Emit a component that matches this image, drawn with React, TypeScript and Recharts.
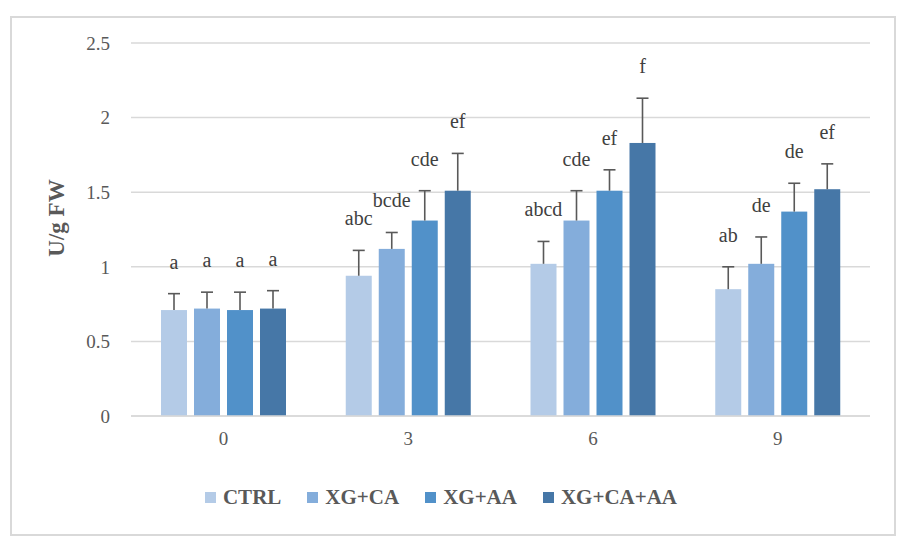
import { BarChart, Bar, XAxis, YAxis, CartesianGrid, Legend } from "recharts"

const days = ["0", "3", "6", "9"]

const ctrl = [0.71, 0.94, 1.02, 0.85]
const xgCa = [0.72, 1.12, 1.31, 1.02]
const xgAa = [0.71, 1.31, 1.51, 1.37]
const xgCaAa = [0.72, 1.51, 1.83, 1.52]

const ctrlErr = [0.11, 0.17, 0.15, 0.15]
const xgCaErr = [0.11, 0.11, 0.2, 0.18]
const xgAaErr = [0.12, 0.2, 0.14, 0.19]
const xgCaAaErr = [0.12, 0.25, 0.3, 0.17]

const ctrlLetters = ["a", "abc", "abcd", "ab"]
const xgCaLetters = ["a", "bcde", "cde", "de"]
const xgAaLetters = ["a", "cde", "ef", "de"]
const xgCaAaLetters = ["a", "ef", "f", "ef"]

const yTicks = [0, 0.5, 1, 1.5, 2, 2.5]

const SERIES = [
  { key: "CTRL", values: ctrl, errors: ctrlErr, letters: ctrlLetters, color: "#b4cbe7" },
  { key: "XG+CA", values: xgCa, errors: xgCaErr, letters: xgCaLetters, color: "#84addb" },
  { key: "XG+AA", values: xgAa, errors: xgAaErr, letters: xgAaLetters, color: "#5191c9" },
  { key: "XG+CA+AA", values: xgCaAa, errors: xgCaAaErr, letters: xgCaAaLetters, color: "#4677a7" },
]

const data = days.map((d, i) => {
  const row: Record<string, string | number> = { day: d }
  SERIES.forEach((s) => {
    row[s.key] = s.values[i]
  })
  return row
})

const FONT = "Liberation Serif, DejaVu Serif, serif"
const TEXT = "#595959"

// bar + plus-only whisker + significance letter, all from the bar's own geometry
const makeShape = (s: number) => (props: any) => {
  const { x, y, width, height, index } = props
  const serie = SERIES[s]
  const v = serie.values[index]
  const k = v ? height / v : 0
  const capY = y - serie.errors[index] * k
  const cx = x + width / 2
  return (
    <g>
      <rect x={x} y={y} width={width} height={height} fill={serie.color} />
      <line x1={cx} x2={cx} y1={y} y2={capY} stroke="#595959" strokeWidth={1.6} />
      <line x1={cx - 6} x2={cx + 6} y1={capY} y2={capY} stroke="#595959" strokeWidth={1.6} />
      <text x={cx} y={capY - 25} textAnchor="middle" style={{ fontFamily: FONT }} fontSize={20} fill="#404040">
        {serie.letters[index]}
      </text>
    </g>
  )
}

const renderLegend = () => (
  <div
    style={{
      height: 30,
      display: "flex",
      justifyContent: "center",
      alignItems: "center",
      gap: 26,
      fontFamily: FONT,
      fontWeight: "bold",
      fontSize: 21,
      color: TEXT,
    }}
  >
    {SERIES.map((s) => (
      <div key={s.key} style={{ display: "flex", alignItems: "center", gap: 7 }}>
        <span style={{ width: 11, height: 11, background: s.color, display: "inline-block" }} />
        <span>{s.key}</span>
      </div>
    ))}
  </div>
)

const yLabel = () => {
  const cx = 44
  const cy = 200
  return (
    <text
      x={cx}
      y={cy}
      transform={`rotate(-90 ${cx} ${cy})`}
      textAnchor="middle"
      dominantBaseline="central"
      style={{ fontFamily: FONT }}
      fontWeight="bold"
      fontSize={23}
      fill={TEXT}
    >
      U/g FW
    </text>
  )
}

export default function App() {
  return (
    <div
      style={{
        position: "absolute",
        left: 10,
        top: 16,
        width: 886,
        height: 520,
        border: "2px solid #d9d9d9",
        boxSizing: "border-box",
        background: "#fff",
        fontFamily: FONT,
      }}
    >
      <BarChart
        width={882}
        height={516}
        data={data}
        margin={{ top: 25, right: 24, left: 0, bottom: 22 }}
        barSize={26}
        barGap={7}
        style={{ fontFamily: FONT }}
      >
        <CartesianGrid vertical={false} stroke="#d9d9d9" strokeWidth={1.5} />
        <XAxis
          dataKey="day"
          height={66}
          axisLine={{ stroke: "#d9d9d9", strokeWidth: 1.5 }}
          tickLine={false}
          tickSize={0}
          tickMargin={16}
          tick={{ fontFamily: FONT, fontSize: 19, fill: TEXT }}
        />
        <YAxis
          width={119}
          domain={[0, 2.5]}
          ticks={yTicks}
          axisLine={false}
          tickLine={false}
          tickSize={0}
          tickMargin={21}
          tick={{ fontFamily: FONT, fontSize: 19, fill: TEXT }}
          label={{ content: yLabel }}
        />
        <Legend verticalAlign="bottom" height={30} content={renderLegend} />
        {SERIES.map((s, i) => (
          <Bar key={s.key} dataKey={s.key} fill={s.color} shape={makeShape(i)} isAnimationActive={false} />
        ))}
      </BarChart>
    </div>
  )
}
